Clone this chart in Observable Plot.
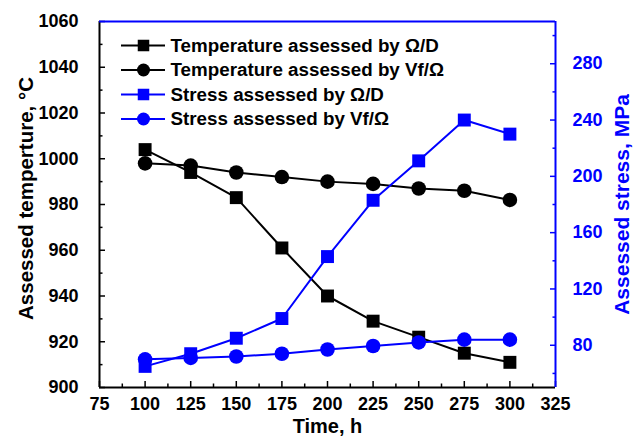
<!DOCTYPE html>
<html><head><meta charset="utf-8">
<script src="https://cdn.jsdelivr.net/npm/d3@7"></script>
<script src="https://cdn.jsdelivr.net/npm/@observablehq/plot@0.6"></script>
<style>
body{margin:0;background:#fff}
svg{font-family:"Liberation Sans",Arial,sans-serif;font-weight:bold}
</style>
</head><body><div id="chart"></div>
<script>
const time = [100,125,150,175,200,225,250,275,300];
const tempOD = [1004,994,983,961,940,929,922,915,911];
const tempVf = [998,997,994,992,990,989,987,986,982];
const stressOD = [65,74,85,99,143,183,211,240,230];
const stressVf = [70,71,72,74,77,79.5,82,84,84];
const xTicks = [75,100,125,150,175,200,225,250,275,300,325];
const tempTicks = [900,920,940,960,980,1000,1020,1040,1060];
const stressTicks = [80,120,160,200,240,280];
const legendLabels = ["Temperature assessed by Ω/D","Temperature assessed by Vf/Ω","Stress assessed by Ω/D","Stress assessed by Vf/Ω"];
const xDomain = [75,325], tempDomain = [900,1060], stressDomain = [50,310];

const BLUE = "#0000ff", BLACK = "#000";
const W = 638, H = 447, mL = 99, mR = 83, mT = 21, mB = 60;
const s2t = d3.scaleLinear().domain(stressDomain).range(tempDomain);
const xPix = d3.scaleLinear().domain(xDomain).range([mL, W - mR]);
const yPix = d3.scaleLinear().domain(tempDomain).range([H - mB, mT]);

const series = [
  {name: legendLabels[0], color: BLACK, symbol: "square", y: tempOD},
  {name: legendLabels[1], color: BLACK, symbol: "circle", y: tempVf},
  {name: legendLabels[2], color: BLUE, symbol: "square", y: stressOD.map(s2t)},
  {name: legendLabels[3], color: BLUE, symbol: "circle", y: stressVf.map(s2t)}
];
const rows = series.flatMap(s => time.map((t, i) => ({t, v: s.y[i], s: s.name, color: s.color, symbol: s.symbol})));

const legend = series.map((s, i) => ({
  x1: xPix.invert(121), x2: xPix.invert(165), xm: xPix.invert(143), xt: xPix.invert(170),
  y: yPix.invert(45 + i * 24.5), name: s.name, color: s.color, symbol: s.symbol
}));

const minorX = xTicks.slice(0, -1).map(d => d + 12.5);
const minorT = tempTicks.slice(0, -1).map(d => d + 10);
const minorS = [60,100,140,180,220,260,300];
const fmt = d => String(d);

const chart = Plot.plot({
  width: W, height: H,
  marginLeft: mL, marginRight: mR, marginTop: mT, marginBottom: mB,
  x: {domain: xDomain},
  y: {domain: tempDomain},
  style: {fontFamily: "'Liberation Sans', Arial, sans-serif", fontWeight: "bold", background: "#fff"},
  marks: [
    Plot.axisX({ticks: xTicks, tickSize: -6, tickPadding: 16, fontSize: 18, fontWeight: "bold", tickFormat: fmt, label: null, strokeWidth: 1.5, color: BLACK}),
    Plot.axisX({ticks: minorX, tickSize: -3.5, tickFormat: () => "", label: null, strokeWidth: 1.5}),
    Plot.axisY({ticks: tempTicks, anchor: "left", tickSize: -6, tickPadding: 27, fontSize: 18, fontWeight: "bold", tickFormat: fmt, label: null, strokeWidth: 1.5, color: BLACK}),
    Plot.axisY({ticks: minorT, anchor: "left", tickSize: -3.5, tickFormat: () => "", label: null, strokeWidth: 1.5}),
    Plot.axisY({ticks: stressTicks.map(s2t), anchor: "right", tickSize: -6, tickPadding: 23, fontSize: 18, fontWeight: "bold", label: null,
      tickFormat: d => String(Math.round(s2t.invert(d))), strokeWidth: 1.5, color: BLUE, stroke: BLUE, fill: BLUE}),
    Plot.axisY({ticks: minorS.map(s2t), anchor: "right", tickSize: -3.5, tickFormat: () => "", label: null, strokeWidth: 1.5, stroke: BLUE}),
    Plot.ruleX([xDomain[0]], {stroke: BLACK, strokeWidth: 2}),
    Plot.ruleY([tempDomain[0]], {stroke: BLACK, strokeWidth: 2}),
    Plot.ruleY([tempDomain[1]], {stroke: BLUE, strokeWidth: 2}),
    Plot.ruleX([xDomain[1]], {stroke: BLUE, strokeWidth: 2}),
    Plot.line(rows, {x: "t", y: "v", z: "s", stroke: "color", strokeWidth: 2}),
    Plot.dot(rows, {x: "t", y: "v", symbol: "symbol", fill: "color", stroke: "none", r: 7.3}),
    Plot.ruleY(legend, {x1: "x1", x2: "x2", y: "y", stroke: "color", strokeWidth: 2}),
    Plot.dot(legend, {x: "xm", y: "y", symbol: "symbol", fill: "color", stroke: "none", r: 6.5}),
    Plot.text(legend, {x: "xt", y: "y", text: "name", textAnchor: "start", fill: BLACK, fontSize: 18.8, fontWeight: "bold"}),
    Plot.text(["Time, h"], {text: d => d, frameAnchor: "bottom", textAnchor: "middle", dy: 45, fontSize: 20, fontWeight: "bold", fill: BLACK}),
    Plot.text(["Assessed temperture, °C"], {text: d => d, frameAnchor: "left", textAnchor: "middle", dx: -73, dy: -6, rotate: -90, fontSize: 20.5, fontWeight: "bold", fill: BLACK}),
    Plot.text(["Assessed stress, MPa"], {text: d => d, frameAnchor: "right", textAnchor: "middle", dx: 67, rotate: -90, fontSize: 21, fontWeight: "bold", fill: BLUE})
  ]
});
document.getElementById("chart").appendChild(chart);
</script>
</body></html>
